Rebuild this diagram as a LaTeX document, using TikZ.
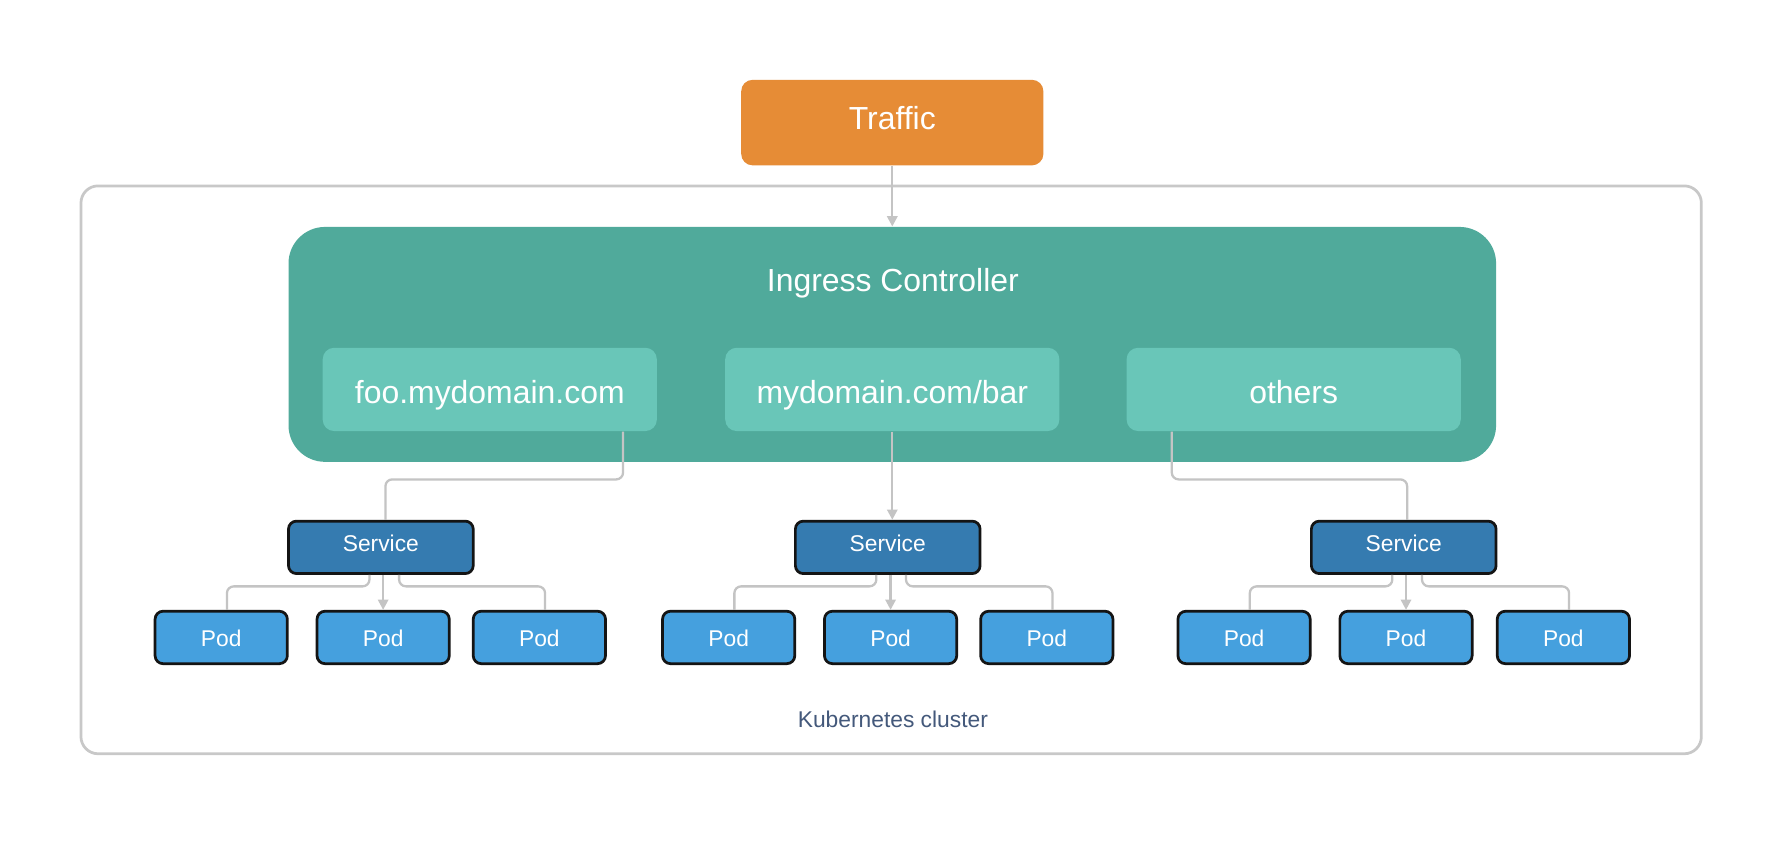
\documentclass[tikz,border=0pt]{standalone}
\usepackage{fontspec}
\setmainfont{Liberation Sans}
\usetikzlibrary{arrows.meta,positioning}
\definecolor{traffico}{HTML}{E68C36}
\definecolor{ingteal}{HTML}{50AA9B}
\definecolor{rulteal}{HTML}{69C6B8}
\definecolor{svcblue}{HTML}{357BB0}
\definecolor{podblue}{HTML}{45A0DE}
\definecolor{connc}{HTML}{C4C4C4}
\definecolor{clusterc}{HTML}{C8C8C8}
\definecolor{kubetext}{HTML}{44597B}
\definecolor{boxline}{HTML}{141414}
\tikzset{
  trafficbox/.style={fill=traffico, draw=none, rounded corners=5pt, minimum width=132.5pt, minimum height=37.5pt, inner sep=0pt, text=white, font=\fontsize{14}{16}\selectfont, text height=5.7pt, text depth=0pt},
  clusterbox/.style={draw=clusterc, line width=1.2pt, fill=white, rounded corners=7.5pt, minimum width=710.5pt, minimum height=249pt, inner sep=0pt},
  ingressbox/.style={fill=ingteal, draw=none, rounded corners=16pt, minimum width=529.5pt, minimum height=103pt, inner sep=0pt},
  titletext/.style={text=white, font=\fontsize{14}{16}\selectfont, inner sep=0pt, text height=10pt, text depth=0pt},
  rulebox/.style={fill=rulteal, draw=none, rounded corners=5pt, minimum width=146.5pt, minimum height=36.5pt, inner sep=0pt, text=white, font=\fontsize{14}{16}\selectfont, text height=12pt, text depth=0pt},
  svcbox/.style={fill=svcblue, draw=boxline, line width=1.2pt, rounded corners=3.5pt, minimum width=81pt, minimum height=23pt, inner sep=0pt, text=white, font=\fontsize{10}{12}\selectfont, text height=3.2pt, text depth=0pt},
  podbox/.style={fill=podblue, draw=boxline, line width=1.2pt, rounded corners=3.5pt, minimum width=58pt, minimum height=23pt, inner sep=0pt, text=white, font=\fontsize{10}{12}\selectfont, text height=7.5pt, text depth=0pt},
  conn/.style={draw=connc, line width=1pt, rounded corners=3pt},
  arrconn/.style={conn, -{Triangle[width=4.5pt,length=4.5pt]}},
  kubelabel/.style={text=kubetext, font=\fontsize{10}{12}\selectfont, inner sep=0pt}
}
\begin{document}
\begin{tikzpicture}[x=0.5pt,y=-0.5pt]
\useasboundingbox[fill=white] (0,0) rectangle (1568,752);
% cluster
\node[clusterbox] (cluster) at (781.5,412) {};
\node[kubelabel] (kube) at (783,631) {Kubernetes cluster};
% traffic and ingress
\node[trafficbox] (traffic) at (782.5,107.5) {Traffic};
\node[ingressbox] (ingress) at (782.5,302) {};
\node[titletext] (ingtitle) at (783,246) {Ingress Controller};
\node[rulebox] (foo) at (429.5,341.5) {foo.mydomain.com};
\node[rulebox] (bar) at (782.5,341.5) {mydomain.com/bar};
\node[rulebox] (others) at (1134.5,341.5) {others};
% services
\node[svcbox] (svcA) at (334,480) {Service};
\node[svcbox] (svcB) at (778.5,480) {Service};
\node[svcbox] (svcC) at (1231,480) {Service};
% pods
\node[podbox] (podA1) at (194,559) {Pod};
\node[podbox] (podA2) at (336,559) {Pod};
\node[podbox] (podA3) at (473,559) {Pod};
\node[podbox] (podB1) at (639,559) {Pod};
\node[podbox] (podB2) at (781,559) {Pod};
\node[podbox] (podB3) at (918,559) {Pod};
\node[podbox] (podC1) at (1091,559) {Pod};
\node[podbox] (podC2) at (1233,559) {Pod};
\node[podbox] (podC3) at (1371,559) {Pod};
% traffic -> ingress
\draw[arrconn] (traffic.south) -- (ingress.north);
% rules -> services
\draw[conn] ([xshift=-15pt]foo.south east) -- ++(0,42) -| ([xshift=2pt]svcA.north);
\draw[arrconn] (bar.south) -- (bar.south |- svcB.north);
\draw[conn] ([xshift=20pt]others.south west) -- ++(0,42) -| ([xshift=1.5pt]svcC.north);
% services -> pods
\foreach \s/\a/\b/\c in {svcA/podA1/podA2/podA3, svcB/podB1/podB2/podB3, svcC/podC1/podC2/podC3}{
  \draw[conn] ([xshift=-5pt]\s.south) -- ++(0,10) -| ([xshift=2.5pt]\a.north);
  \draw[arrconn] (\s.south -| \b.north) -- (\b.north);
  \draw[conn] ([xshift=8pt]\s.south) -- ++(0,10) -| ([xshift=2.5pt]\c.north);
}
\end{tikzpicture}
\end{document}
